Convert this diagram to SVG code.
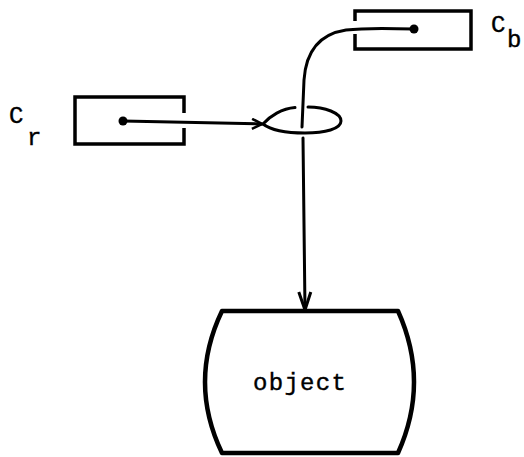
<svg xmlns="http://www.w3.org/2000/svg" width="524" height="457" viewBox="0 0 524 457">
<defs>
<style>
.box{fill:none;stroke:#000;stroke-width:3.5;stroke-linejoin:miter}
.obj{fill:#fff;stroke:#000;stroke-width:4.5;stroke-linejoin:round}
.wire{fill:none;stroke:#000;stroke-width:3;stroke-linecap:round}
.lbl{font-family:"Liberation Mono","DejaVu Sans Mono",monospace;font-size:24px;fill:#000;stroke:#000;stroke-width:0.4}
.dot{fill:#000}
</style>
<marker id="ah" viewBox="0 0 12 12" refX="11" refY="6" markerWidth="12" markerHeight="12" markerUnits="userSpaceOnUse" orient="auto">
<path d="M1,1 L11,6 L1,11" fill="none" stroke="#000" stroke-width="2.5"/>
</marker>
<marker id="ah2" viewBox="0 0 20 16" refX="19" refY="8" markerWidth="20" markerHeight="16" markerUnits="userSpaceOnUse" orient="auto">
<path d="M1,2 L19,8 L1,14" fill="none" stroke="#000" stroke-width="3"/>
</marker>
</defs>
<g id="node-cr">
<path class="box" d="M184,113 L184,97 L75,97 L75,144 L184,144 L184,128"/>
<circle class="dot" cx="123" cy="121" r="4.5"/>
<text class="lbl" x="9" y="123">C</text>
<text class="lbl" x="27" y="145">r</text>
</g>
<g id="node-cb">
<path class="box" d="M355,21 L355,11 L471,11 L471,49 L355,49 L355,34"/>
<circle class="dot" cx="414" cy="29" r="4.5"/>
<text class="lbl" x="491" y="32">C</text>
<text class="lbl" x="507" y="47">b</text>
</g>
<g id="node-object">
<path class="obj" d="M222,311 L398,311 Q430,382 398,453 L222,453 Q188,382 222,311 Z"/>
<text class="lbl" x="253" y="390" style="letter-spacing:1.3px">object</text>
</g>
<g id="connectors">
<path class="wire" d="M123,121 L262,124" marker-end="url(#ah)"/>
<path class="wire" d="M295,107.5 C282,108.5 270,116 263,124 C272,131 290,133 305,133 C325,133 341,129 341,121 C341,113 325,107 308,107"/>
<path class="wire" d="M414,29 C385,28 362,28 346,30 C320,34 306,50 304,80 L302,127"/>
<path class="wire" d="M303,138 L305,310" marker-end="url(#ah2)"/>
</g>
</svg>
